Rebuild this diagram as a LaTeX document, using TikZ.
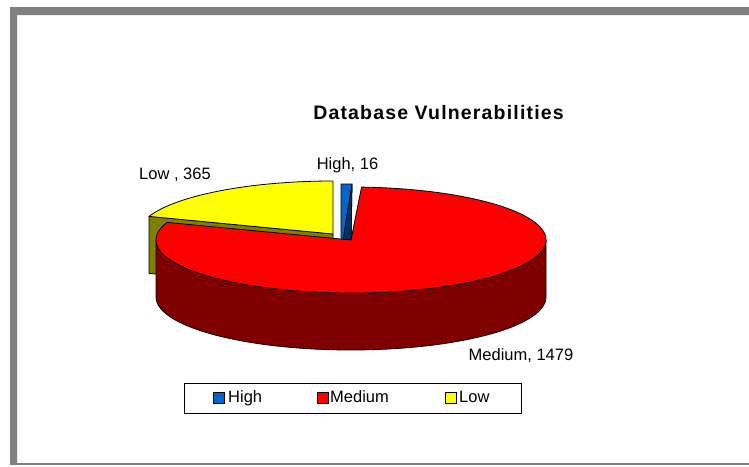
\documentclass[tikz,border=0pt]{standalone}
\usepackage{fontspec}
\setmainfont{Liberation Sans}
\newfontfamily\titlefont[LetterSpace=6]{Liberation Sans}

% pie geometry (screen units, y pointing down)
\def\cx{351}
\def\cy{240}
\def\rx{195}
\def\ry{53}
\def\dep{57}

\definecolor{hiblue}{HTML}{0066CC}
\definecolor{hibluedark}{HTML}{003366}
\definecolor{medred}{HTML}{FF0000}
\definecolor{medreddark}{HTML}{800000}
\definecolor{lowyellow}{HTML}{FFFF00}
\definecolor{lowolive}{HTML}{808000}

\begin{document}
\begin{tikzpicture}[x=1pt,y=-1pt,
    slice/.style={draw=black, line width=0.8pt, line join=round},
    lbl/.style={font=\fontsize{16.5}{19}\selectfont, inner sep=0pt, anchor=base},
    key/.style={draw=black, line width=0.8pt, minimum size=11pt, inner sep=0pt}]

    \useasboundingbox (0,0) rectangle (749,466);

    % Draw the frame
    \fill[gray] (10,7) -- (749,7) -- (749,15) -- (17,15) -- (17,464) -- (10,464) -- cycle;
    \draw[gray, line width=1.5pt] (10,464) -- (749,464);

    % Low slice, pulled out to the upper left
    \fill[lowolive, slice] (333,234) -- ({333+\rx*cos(160.6)},{234-\ry*sin(160.6)})
        -- ({333+\rx*cos(160.6)},{234+\dep-\ry*sin(160.6)}) -- (333,{234+\dep}) -- cycle;
    \fill[lowyellow, slice] (333,234)
        -- plot[variable=\t, domain=90:160.6, samples=40] ({333+\rx*cos(\t)},{234-\ry*sin(\t)})
        -- cycle;

    % High slice
    \fill[hiblue, slice] (341,184) -- (352,184) -- (351,240) -- (341,240) -- cycle;
    \fill[hibluedark, slice] (352,184) -- (351,240) -- (343,240) -- cycle;

    % Medium slice: side wall, then top
    \fill[medreddark, slice]
        plot[variable=\t, domain=180:360, samples=60] ({\cx+\rx*cos(\t)},{\cy-\ry*sin(\t)})
        -- plot[variable=\t, domain=360:180, samples=60] ({\cx+\rx*cos(\t)},{\cy+\dep-\ry*sin(\t)})
        -- cycle;
    \fill[medred, slice] (\cx,\cy)
        -- plot[variable=\t, domain=86.9:-199.4, samples=120] ({\cx+\rx*cos(\t)},{\cy-\ry*sin(\t)})
        -- cycle;

    % Title and data labels
    \node[anchor=base, inner sep=0pt, font=\titlefont\bfseries\fontsize{19.5}{22}\selectfont] (title) at (438.5,119) {Database Vulnerabilities};
    \node[lbl] (lowlbl) at (175,179) {Low , 365};
    \node[lbl] (highlbl) at (347.5,169.5) {High, 16};
    \node[lbl] (medlbl) at (521,360) {Medium, 1479};

    % Legend
    \draw[black, line width=0.8pt] (184,383) rectangle (521,413);
    \node[key, fill=hiblue] (keyhigh) at (219,397.5) {};
    \node[key, fill=medred] (keymed) at (322.5,397.5) {};
    \node[key, fill=lowyellow] (keylow) at (450.5,397.5) {};
    \node[lbl, anchor=base west] (txthigh) at (228,402.5) {High};
    \node[lbl, anchor=base west] (txtmed) at (330,402.5) {Medium};
    \node[lbl, anchor=base west] (txtlow) at (459,402.5) {Low};
\end{tikzpicture}
\end{document}
